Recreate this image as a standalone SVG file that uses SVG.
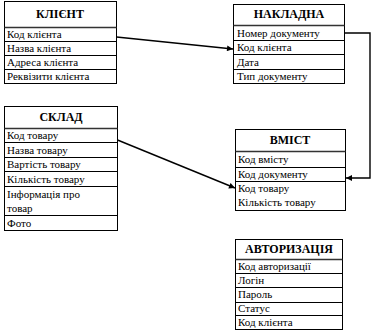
<svg xmlns="http://www.w3.org/2000/svg" width="373" height="336" viewBox="0 0 373 336">
<defs>
<style>
.box{fill:#fff;stroke:#000;stroke-width:1}
.sep{stroke:#000;stroke-width:1}
.hsep{stroke:#333;stroke-width:1.6}
.t{font-family:"Liberation Serif","Times New Roman",serif;font-size:11px;fill:#000}
.h{font-family:"Liberation Serif","Times New Roman",serif;font-size:12px;font-weight:bold;fill:#000;text-anchor:middle}
.c{fill:none;stroke:#000;stroke-width:1.4}
</style>
<marker id="arr" viewBox="0 0 10 10" refX="10" refY="5" markerWidth="7" markerHeight="6" markerUnits="userSpaceOnUse" orient="auto">
<path d="M0,0 L10,5 L0,10 z" fill="#000"/>
</marker>
</defs>
<rect width="373" height="336" fill="#fff"/>

<g id="klient">
<rect class="box" x="4.5" y="1.5" width="112" height="82"/>
<line class="hsep" x1="4.5" y1="27.5" x2="116.5" y2="27.5"/>
<line class="sep" x1="4.5" y1="41.5" x2="116.5" y2="41.5"/>
<line class="sep" x1="4.5" y1="55.5" x2="116.5" y2="55.5"/>
<line class="sep" x1="4.5" y1="69.5" x2="116.5" y2="69.5"/>
<text class="h" x="60" y="18">КЛІЄНТ</text>
<text class="t" x="7" y="38">Код клієнта</text>
<text class="t" x="7" y="52">Назва клієнта</text>
<text class="t" x="7" y="66">Адреса клієнта</text>
<text class="t" x="7" y="80">Реквізити клієнта</text>
</g>

<g id="nakladna">
<rect class="box" x="233.5" y="4.5" width="111" height="79"/>
<line class="hsep" x1="233.5" y1="25.5" x2="344.5" y2="25.5"/>
<line class="sep" x1="233.5" y1="40.5" x2="344.5" y2="40.5"/>
<line class="sep" x1="233.5" y1="54.5" x2="344.5" y2="54.5"/>
<line class="sep" x1="233.5" y1="69.5" x2="344.5" y2="69.5"/>
<text class="h" x="289" y="18">НАКЛАДНА</text>
<text class="t" x="237" y="37">Номер документу</text>
<text class="t" x="237" y="51">Код клієнта</text>
<text class="t" x="237" y="66">Дата</text>
<text class="t" x="237" y="80">Тип документу</text>
</g>

<g id="sklad">
<rect class="box" x="4.5" y="106.5" width="113" height="124"/>
<line class="hsep" x1="4.5" y1="128.5" x2="117.5" y2="128.5"/>
<line class="sep" x1="4.5" y1="142.5" x2="117.5" y2="142.5"/>
<line class="sep" x1="4.5" y1="157.5" x2="117.5" y2="157.5"/>
<line class="sep" x1="4.5" y1="171.5" x2="117.5" y2="171.5"/>
<line class="sep" x1="4.5" y1="186.5" x2="117.5" y2="186.5"/>
<line class="sep" x1="4.5" y1="215.5" x2="117.5" y2="215.5"/>
<text class="h" x="61" y="121">СКЛАД</text>
<text class="t" x="7" y="139">Код товару</text>
<text class="t" x="7" y="154">Назва товару</text>
<text class="t" x="7" y="168">Вартість товару</text>
<text class="t" x="7" y="183">Кількість товару</text>
<text class="t" x="7" y="198">Інформація про</text>
<text class="t" x="7" y="212">товар</text>
<text class="t" x="7" y="227">Фото</text>
</g>

<g id="vmist">
<rect class="box" x="235.5" y="129.5" width="110" height="81"/>
<line class="hsep" x1="235.5" y1="151.5" x2="345.5" y2="151.5"/>
<line class="sep" x1="235.5" y1="167.5" x2="345.5" y2="167.5"/>
<line class="sep" x1="235.5" y1="181.5" x2="345.5" y2="181.5"/>
<text class="h" x="290" y="144">ВМІСТ</text>
<text class="t" x="238" y="163">Код вмісту</text>
<text class="t" x="238" y="178">Код документу</text>
<text class="t" x="238" y="192">Код товару</text>
<text class="t" x="238" y="206">Кількість товару</text>
</g>

<g id="avtoryzatsiya">
<rect class="box" x="235.5" y="239.5" width="107" height="90"/>
<line class="hsep" x1="235.5" y1="259.5" x2="342.5" y2="259.5"/>
<line class="sep" x1="235.5" y1="273.5" x2="342.5" y2="273.5"/>
<line class="sep" x1="235.5" y1="287.5" x2="342.5" y2="287.5"/>
<line class="sep" x1="235.5" y1="302.5" x2="342.5" y2="302.5"/>
<line class="sep" x1="235.5" y1="315.5" x2="342.5" y2="315.5"/>
<text class="h" x="289" y="253">АВТОРИЗАЦІЯ</text>
<text class="t" x="238" y="270">Код авторизації</text>
<text class="t" x="238" y="284">Логін</text>
<text class="t" x="238" y="298">Пароль</text>
<text class="t" x="238" y="312">Статус</text>
<text class="t" x="238" y="326">Код клієнта</text>
</g>

<g id="connectors">
<line class="c" x1="116.5" y1="37" x2="233" y2="49" marker-end="url(#arr)"/>
<line class="c" x1="117.5" y1="140" x2="235" y2="188" marker-end="url(#arr)"/>
<polyline class="c" points="344.5,33 370,33 370,178 346,178" marker-end="url(#arr)"/>
</g>
</svg>
